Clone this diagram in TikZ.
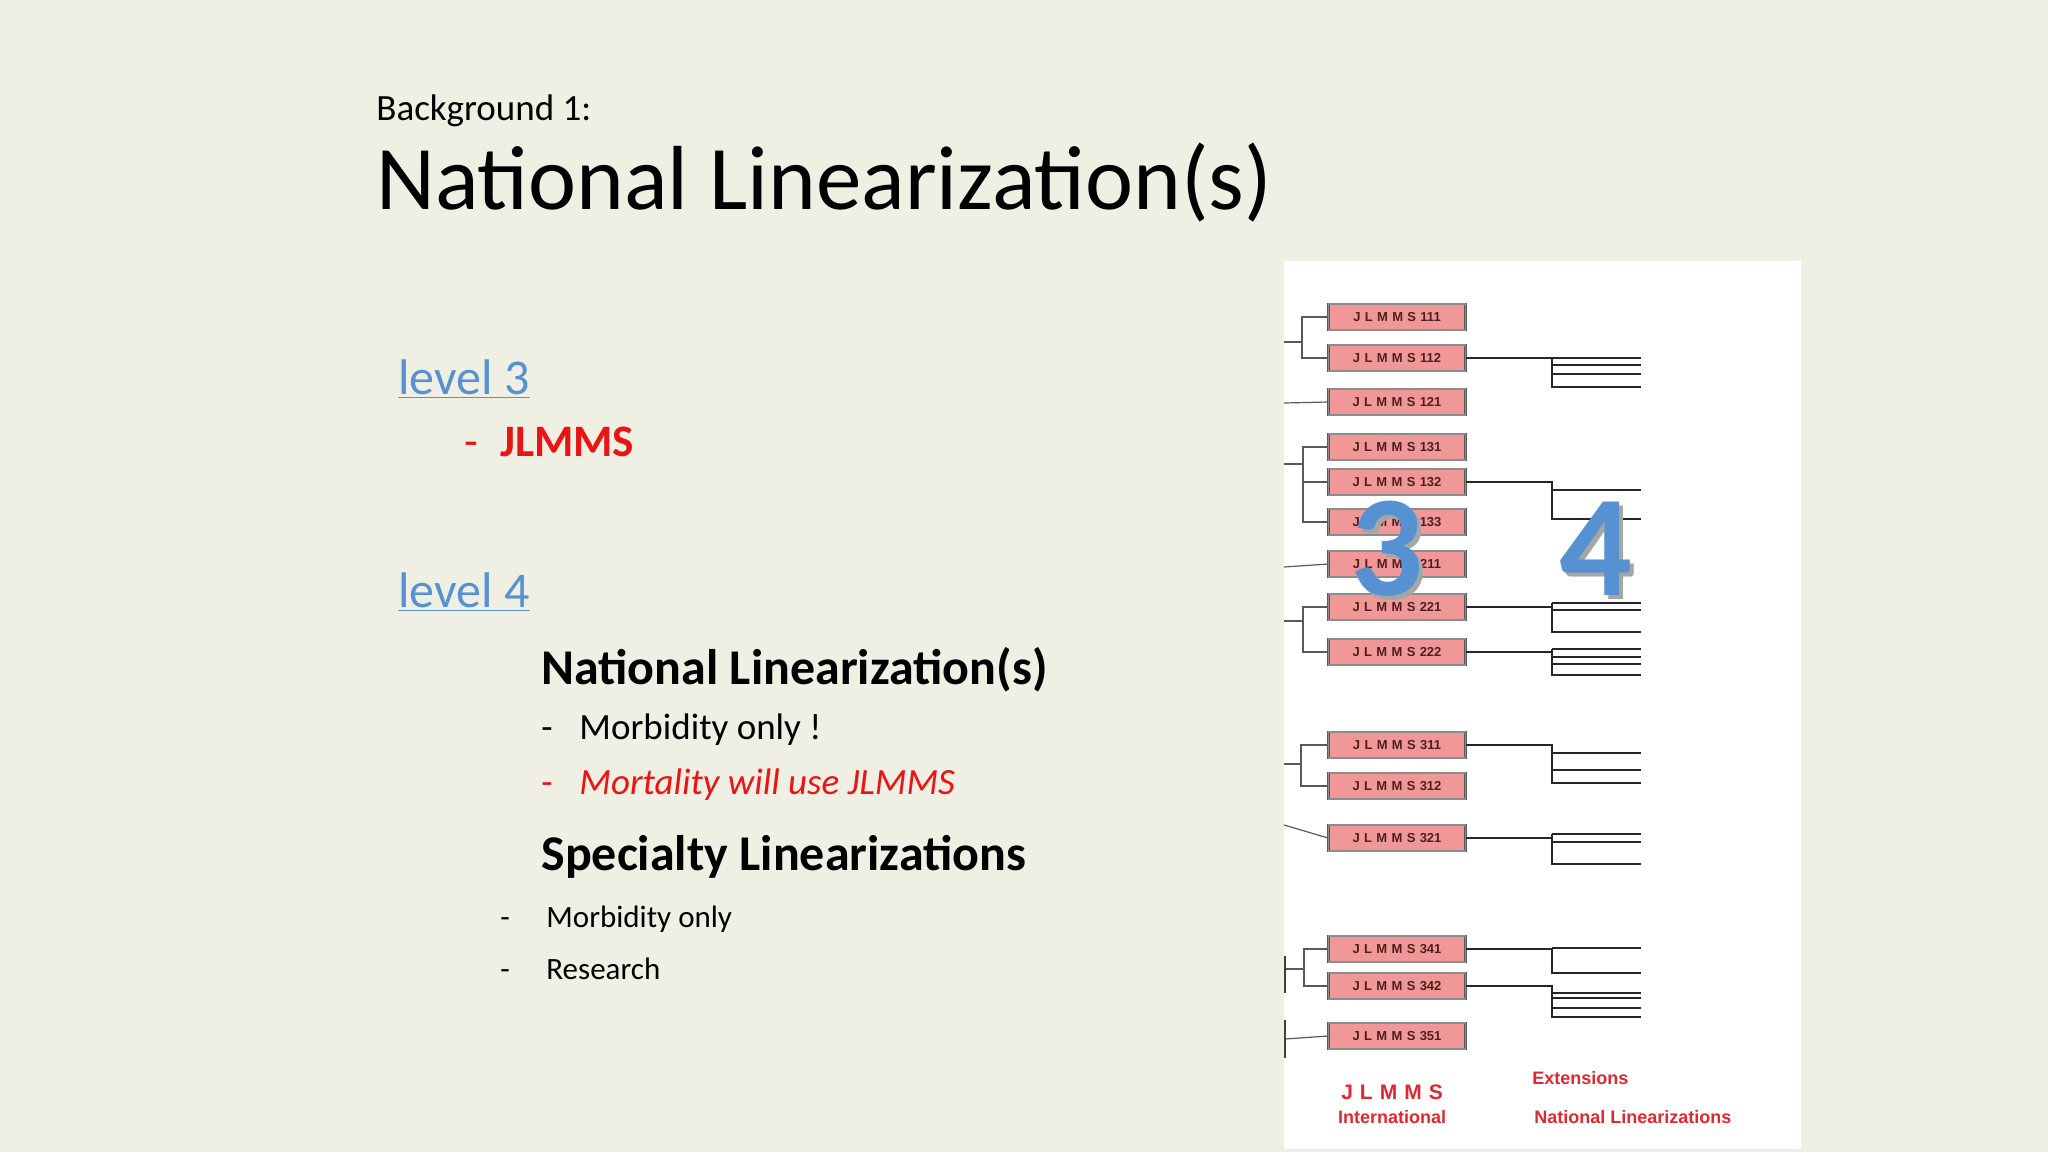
\documentclass[tikz,border=0pt]{standalone}
\usepackage{fontspec}
\setmainfont{Carlito}
\newfontfamily\arialf{Liberation Sans}
\begin{document}
\begin{tikzpicture}[x=0.5pt,y=-0.5pt,
  txt/.style={anchor=base west,inner sep=0pt},
  lvl/.style={txt,text=lvlblue,font=\fontsize{25}{28}\selectfont},
  jbox/.style={draw=black!65,double=black!45,double distance=0.6pt,fill=boxpink,minimum width=68.5pt,minimum height=13pt,inner sep=0pt,text=boxtext,font=\arialf\bfseries\fontsize{6.5}{8}\selectfont},
  thin/.style={draw=black!65,line width=0.6pt},
  tree/.style={draw=black!85,line width=1pt},
  redlab/.style={text=labred,font=\arialf\bfseries\fontsize{9}{10}\selectfont,inner sep=0pt},
  bignum/.style={text=lvlblue,font=\bfseries\fontsize{72}{72}\selectfont,inner sep=0pt}]
\definecolor{bg}{RGB}{240,239,228}
\definecolor{lvlblue}{RGB}{86,145,210}
\definecolor{boxpink}{RGB}{240,152,152}
\definecolor{boxtext}{RGB}{80,30,30}
\definecolor{labred}{RGB}{225,40,50}
\definecolor{txtred}{RGB}{235,20,20}
\fill[bg] (0,0) rectangle (2048,1152);
\useasboundingbox (0,0) rectangle (2048,1152);
% left text
\node[txt,font=\fontsize{18.5}{20}\selectfont] (bg1) at (376,120) {Background 1:};
\node[txt,font=\fontsize{45.5}{50}\selectfont] (title) at (376,209) {National Linearization(s)};
\node[lvl] (l3) at (398,394) {\underline{level 3}};
\node[txt,text=txtred,font=\fontsize{22.5}{25}\selectfont] (d1) at (464,456) {-};
\node[txt,text=txtred,font=\bfseries\fontsize{22.5}{25}\selectfont] (j1) at (500,456) {JLMMS};
\node[lvl] (l4) at (398,607) {\underline{level 4}};
\node[txt,font=\bfseries\fontsize{25}{28}\selectfont] (nl) at (541,684) {National Linearization(s)};
\node[txt,font=\fontsize{18.5}{20}\selectfont] (d2) at (541,739) {-};
\node[txt,font=\fontsize{18.5}{20}\selectfont] (m1) at (579,739) {Morbidity only !};
\node[txt,text=txtred,font=\fontsize{18.5}{20}\selectfont] (d3) at (541,794) {-};
\node[txt,text=txtred,font=\itshape\fontsize{18.5}{20}\selectfont] (m2) at (579,794) {Mortality will use JLMMS};
\node[txt,font=\bfseries\fontsize{25}{28}\selectfont] (sl) at (541,870) {Specialty Linearizations};
\node[txt,font=\fontsize{15.5}{18}\selectfont] (d4) at (500,927) {-};
\node[txt,font=\fontsize{15.5}{18}\selectfont] (m3) at (546,927) {Morbidity only};
\node[txt,font=\fontsize{15.5}{18}\selectfont] (d5) at (500,979) {-};
\node[txt,font=\fontsize{15.5}{18}\selectfont] (r1) at (546,979) {Research};
% panel
\fill[white] (1284,261) rectangle (1801,1149);
\foreach \n/\y in {111/317,112/358,121/402,131/447,132/482,133/522,211/564,221/607,222/652,311/745,312/786,321/838,341/949,342/986,351/1036}{
  \node[jbox] (b\n) at (1397,\y) {J\,\,L\,\,M\,\,M\,\,S\,\,\n};
}
% left connectors
\coordinate (e1) at (1284,342); \coordinate (v1) at (1302,342);
\draw[thin] (e1) -- (v1); \draw[thin] (b111.west) -| (v1) |- (b112.west);
\coordinate (e2) at (1284,403); \draw[thin] (e2) -- (b121.west);
\coordinate (e3) at (1284,464); \coordinate (v3) at (1303,464);
\draw[thin] (e3) -- (v3); \draw[thin] (b131.west) -| (v3) |- (b133.west);
\draw[thin] (v3 |- b132.west) -- (b132.west);
\coordinate (e4) at (1284,567); \draw[thin] (e4) -- (b211.west);
\coordinate (e5) at (1284,621); \coordinate (v5) at (1303,621);
\draw[thin] (e5) -- (v5); \draw[thin] (b221.west) -| (v5) |- (b222.west);
\coordinate (e6) at (1284,764); \coordinate (v6) at (1301,764);
\draw[thin] (e6) -- (v6); \draw[thin] (b311.west) -| (v6) |- (b312.west);
\coordinate (e7) at (1284,825); \draw[thin] (e7) -- (b321.west);
\coordinate (e8) at (1284,969); \coordinate (v8) at (1304,969);
\draw[thin] (e8) -- (v8); \draw[thin] (b341.west) -| (v8) |- (b342.west);
\coordinate (t8a) at (1285,956); \coordinate (t8b) at (1285,993);
\draw[draw=black!75,line width=1pt] (t8a) -- (t8b);
\coordinate (e9) at (1285,1039); \draw[thin] (e9) -- (b351.west);
\coordinate (t9a) at (1285,1020); \coordinate (t9b) at (1285,1058);
\draw[draw=black!75,line width=1pt] (t9a) -- (t9b);
% right trees
\foreach \n/\ys in {112/{358,365,374,387},132/{490,519},221/{603,610,632},222/{649,657,664,675},311/{753,770,783},321/{834,842,864},341/{948,973},342/{993,998,1008,1017}}{
  \coordinate (s\n) at (b\n.east);
  \foreach \yb [count=\i] in \ys {
    \ifnum\i=1 \coordinate (top\n) at (1552,\yb); \fi
    \coordinate (br\n-\i) at (1641,\yb);
    \draw[tree] (top\n) |- (br\n-\i);
  }
  \draw[tree] (s\n) -| (top\n);
}
% labels
\node[redlab,font=\arialf\bfseries\fontsize{10.5}{12}\selectfont] (lj) at (1392,1092) {J\,\,L\,\,M\,\,M\,\,S};
\node[redlab] (li) at (1392,1117) {International};
\node[redlab,anchor=west] (le) at (1532,1078) {Extensions};
\node[redlab,anchor=west] (ln) at (1534,1117) {National Linearizations};
% big numbers
\node[bignum,text=black!35] (n3s) at (1391,553) {3};
\node[bignum] (n3) at (1387,549) {3};
\node[bignum,text=black!35] (n4s) at (1600,553) {4};
\node[bignum] (n4) at (1596,549) {4};
\end{tikzpicture}
\end{document}
